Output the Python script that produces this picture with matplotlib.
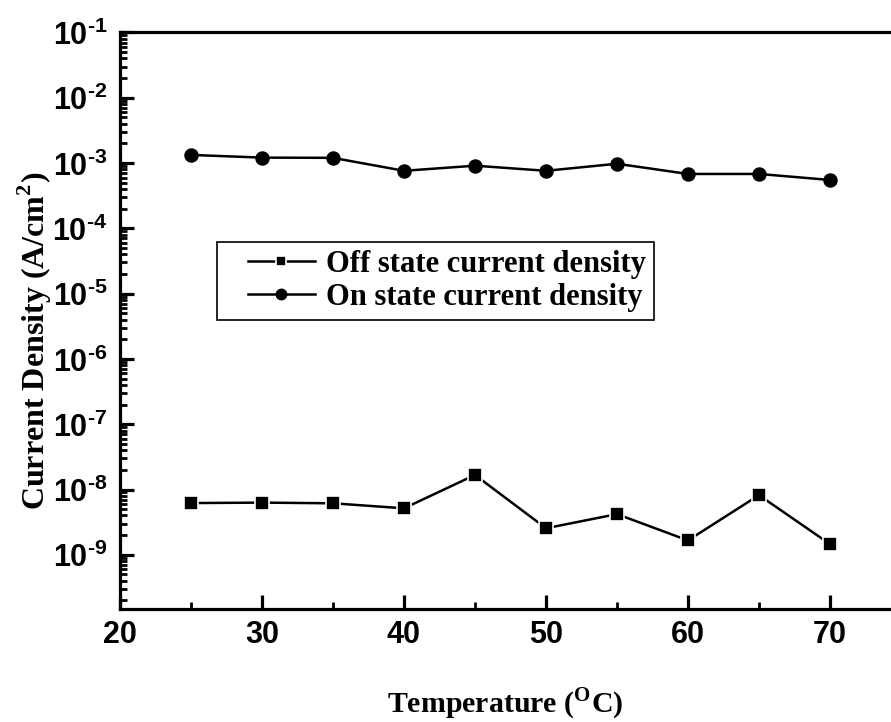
import matplotlib
matplotlib.use("Agg")
import matplotlib.pyplot as plt
from matplotlib.ticker import LogLocator, FixedLocator, NullFormatter
from matplotlib.legend_handler import HandlerLine2D

plt.rcParams["mathtext.fontset"] = "custom"
plt.rcParams["mathtext.sf"] = "Liberation Sans:bold"
plt.rcParams["mathtext.bf"] = "Liberation Serif:bold"
plt.rcParams["mathtext.rm"] = "Liberation Sans:bold"

# Temperature (deg C) and measured current densities (A/cm^2)
temperature = [25, 30, 35, 40, 45, 50, 55, 60, 65, 70]
off_state = [6.2e-9, 6.3e-9, 6.15e-9, 5.15e-9, 1.67e-8, 2.55e-9, 4.2e-9, 1.66e-9, 8.2e-9, 1.46e-9]
on_state = [1.33e-3, 1.21e-3, 1.2e-3, 7.6e-4, 9.1e-4, 7.6e-4, 9.75e-4, 6.8e-4, 6.8e-4, 5.5e-4]

x_ticks = [20, 30, 40, 50, 60, 70]
x_tick_labels = ["20", "30", "40", "50", "60", "70"]
y_exponents = [-9, -8, -7, -6, -5, -4, -3, -2, -1]


class LeadingGapHandler(HandlerLine2D):
    """Line+marker legend handle that leaves some blank space before it."""

    def __init__(self, lead, **kw):
        super().__init__(**kw)
        self.lead = lead

    def create_artists(self, legend, orig_handle, xdescent, ydescent,
                       width, height, fontsize, trans):
        lead = self.lead * fontsize
        return super().create_artists(legend, orig_handle, xdescent - lead,
                                      ydescent, width - lead, height,
                                      fontsize, trans)


fig = plt.figure(figsize=(8.91, 7.22), dpi=100)
ax = fig.add_axes([0.1347, 0.1565, 0.8653, 0.7986])

l_off, = ax.plot(temperature, off_state, color="black", lw=1.8, marker="s",
                 ms=9.6, mfc="black", mec="white", mew=1.2,
                 label="Off state current density")
l_on, = ax.plot(temperature, on_state, color="black", lw=1.8, marker="o", ms=9.4,
                label="On state current density")

ax.set_yscale("log")
ax.set_ylim(10 ** -9.83, 1e-1)
ax.set_xlim(20, 74.3)

ax.spines["right"].set_visible(False)
for side in ("left", "top", "bottom"):
    ax.spines[side].set_linewidth(2.3)

ax.xaxis.set_major_locator(FixedLocator(x_ticks))
ax.set_xticklabels(x_tick_labels)
ax.xaxis.set_minor_locator(FixedLocator([25, 35, 45, 55, 65]))

# decade labels with a plain hyphen in the exponent
ax.yaxis.set_major_locator(FixedLocator([10.0 ** e for e in y_exponents]))
ax.set_yticklabels([r"$\mathsf{10^{\text{-}%d}}$" % abs(e) for e in y_exponents])
ax.yaxis.set_minor_locator(LogLocator(base=10, subs=range(2, 10), numticks=20))
ax.yaxis.set_minor_formatter(NullFormatter())

ax.tick_params(which="major", direction="in", length=10, width=2.3,
               labelsize=22, top=False, right=False, pad=8)
ax.tick_params(which="minor", direction="in", length=5, width=2.0,
               top=False, right=False)
ax.tick_params(axis="y", which="major", pad=9)
for lbl in ax.get_xticklabels():
    lbl.set_fontfamily("Liberation Sans")
    lbl.set_fontweight("bold")

ax.set_xlabel(r"Temperature ($^{\mathbf{O}}$C)", fontfamily="Liberation Serif",
              fontweight="bold", fontsize=21.5, labelpad=26)
ax.set_ylabel(r"Current Density (A/cm$^{\mathbf{2}}$)", fontfamily="Liberation Serif",
              fontweight="bold", fontsize=23)
ax.yaxis.set_label_coords(-0.0856, 0.4648)

handler = LeadingGapHandler(0.75)
leg = ax.legend(handles=[l_off, l_on], loc="upper left",
                bbox_to_anchor=(0.1258, 0.6365),
                prop={"family": "Liberation Serif", "weight": "bold", "size": 22},
                frameon=True, fancybox=False, edgecolor="black", framealpha=1,
                handlelength=2.95, handletextpad=0.35, borderpad=0.26,
                labelspacing=0.12, markerscale=0.8, borderaxespad=0,
                handler_map={l_off: handler, l_on: handler})
leg.get_frame().set_linewidth(1.2)

fig.savefig("out.png", dpi=100)
